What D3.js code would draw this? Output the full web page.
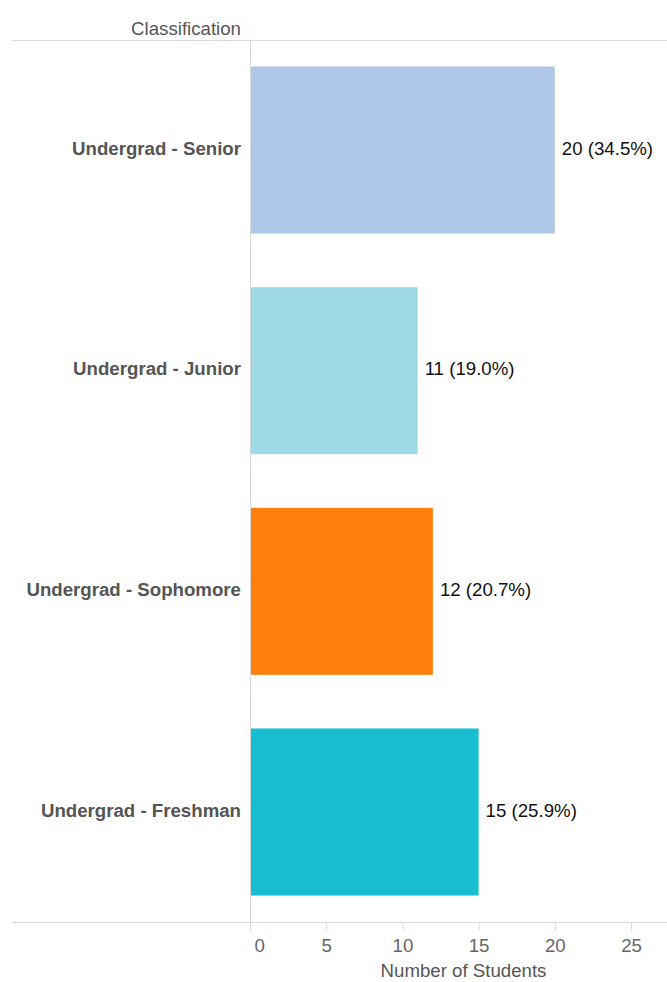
<!DOCTYPE html>
<html>
<head>
<meta charset="utf-8">
<script src="https://cdn.jsdelivr.net/npm/d3@7"></script>
<style>
  body { margin: 0; background: #fff; }
  text { font-family: Arial, "Liberation Sans", sans-serif; }
</style>
</head>
<body>
<div id="chart"></div>
<script>
// data
var categories = ['Undergrad - Senior', 'Undergrad - Junior', 'Undergrad - Sophomore', 'Undergrad - Freshman'];
var counts = [20, 11, 12, 15];
var percents = ['34.5%', '19.0%', '20.7%', '25.9%'];
var barColors = ['#aec7e8', '#9edae5', '#ff7f0e', '#17becf'];
var xTicks = [0, 5, 10, 15, 20, 25];

var width = 667, height = 982;
var plotTop = 40, plotBottom = 922, plotLeft = 250, plotRight = 631;
var fontSize = '18.67px';

var svg = d3.select('#chart').append('svg')
    .attr('width', width)
    .attr('height', height);

var x = d3.scaleLinear().domain([0, 25]).range([plotLeft, plotRight]);
var y = d3.scaleBand().domain(categories).range([plotTop, plotBottom])
    .paddingInner(0.243).paddingOuter(0.12);

// frame lines
svg.append('line')
    .attr('x1', 12).attr('x2', width)
    .attr('y1', plotTop + 0.5).attr('y2', plotTop + 0.5)
    .attr('stroke', '#d9d9d9');
svg.append('line')
    .attr('x1', 12).attr('x2', width)
    .attr('y1', plotBottom + 0.5).attr('y2', plotBottom + 0.5)
    .attr('stroke', '#d9d9d9');
svg.append('line')
    .attr('x1', plotLeft + 0.5).attr('x2', plotLeft + 0.5)
    .attr('y1', plotTop).attr('y2', plotBottom)
    .attr('stroke', '#d9d9d9');

// header
svg.append('text')
    .attr('x', plotLeft - 9)
    .attr('y', 35)
    .attr('text-anchor', 'end')
    .attr('font-size', fontSize)
    .attr('fill', '#555')
    .text('Classification');

// bars
var data = categories.map(function(c, i){
    return {cat: c, value: counts[i], pct: percents[i], color: barColors[i]};
});

svg.selectAll('rect.bar').data(data).enter().append('rect')
    .attr('class', 'bar')
    .attr('x', x(0) + 1)
    .attr('y', function(d){ return y(d.cat); })
    .attr('width', function(d){ return x(d.value) - x(0) - 1; })
    .attr('height', y.bandwidth())
    .attr('fill', function(d){ return d.color; });

// value labels
svg.selectAll('text.val').data(data).enter().append('text')
    .attr('class', 'val')
    .attr('x', function(d){ return x(d.value) + 7; })
    .attr('y', function(d){ return y(d.cat) + y.bandwidth() / 2 - 2; })
    .attr('dy', '0.35em')
    .attr('font-size', fontSize)
    .attr('fill', '#111')
    .text(function(d){ return d.value + ' (' + d.pct + ')'; });

// category labels
svg.selectAll('text.cat').data(data).enter().append('text')
    .attr('class', 'cat')
    .attr('x', plotLeft - 9)
    .attr('y', function(d){ return y(d.cat) + y.bandwidth() / 2 - 2; })
    .attr('dy', '0.35em')
    .attr('text-anchor', 'end')
    .attr('font-size', fontSize)
    .attr('font-weight', 'bold')
    .attr('fill', '#555')
    .text(function(d){ return d.cat; });

// x axis
var xAxis = d3.axisBottom(x).tickValues(xTicks).tickSize(8).tickPadding(8);
var gx = svg.append('g')
    .attr('transform', 'translate(0,' + (plotBottom + 0.5) + ')')
    .call(xAxis);
gx.select('.domain').remove();
gx.selectAll('.tick line').attr('stroke', '#d9d9d9');
gx.selectAll('.tick text')
    .attr('font-size', fontSize)
    .attr('font-family', 'Arial, "Liberation Sans", sans-serif')
    .attr('fill', '#666')
    .attr('text-anchor', function(d){ return d === 0 ? 'start' : 'middle'; })
    .attr('x', function(d){ return d === 0 ? 4 : 0; });

svg.append('text')
    .attr('x', (plotLeft + plotRight) / 2 + 23)
    .attr('y', 977)
    .attr('text-anchor', 'middle')
    .attr('font-size', fontSize)
    .attr('fill', '#555')
    .text('Number of Students');
</script>
</body>
</html>
